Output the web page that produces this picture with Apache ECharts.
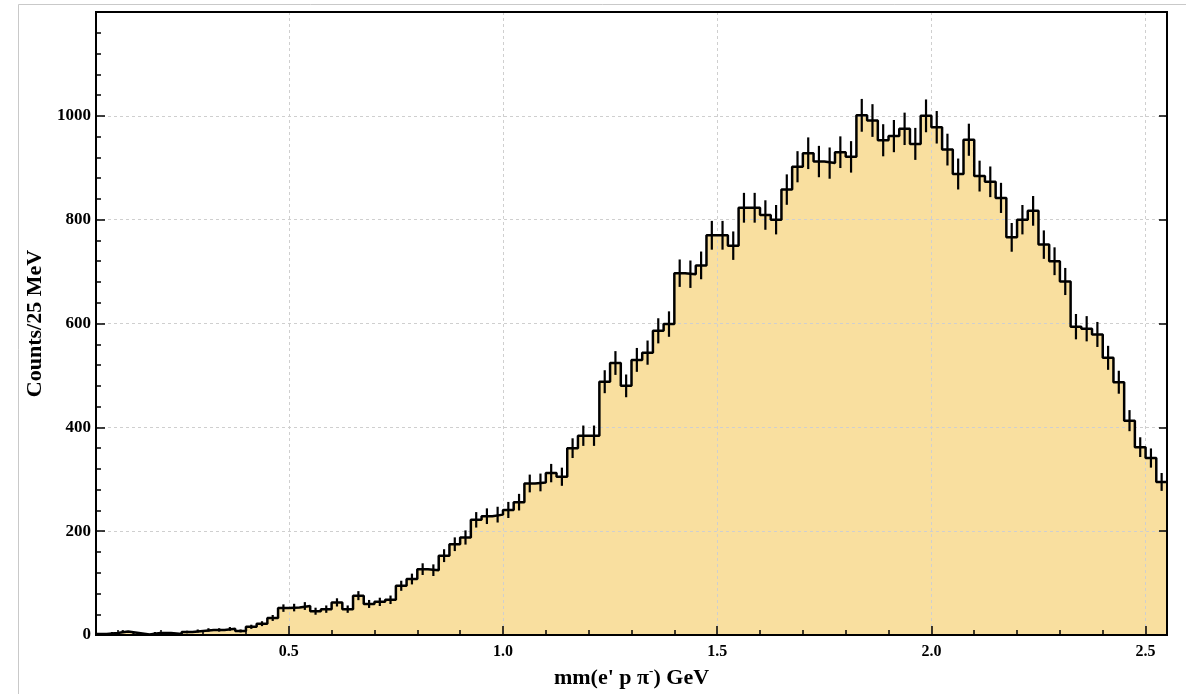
<!DOCTYPE html>
<html>
<head>
<meta charset="utf-8">
<script src="https://cdn.jsdelivr.net/npm/echarts@6/dist/echarts.min.js"></script>
<style>
html,body{margin:0;padding:0;background:#fff;}
#chart{width:1186px;height:694px;}
</style>
</head>
<body>
<div id="chart"></div>
<script>
// Histogram binning (GeV)
const binLow = 0.05;
const binWidth = 0.025;
const binHigh = 2.55;

// Counts per 25 MeV bin (100 bins)
const counts = [
  2, 4, 7, 4, 1, 4, 4, 2, 6, 8,
  10, 10, 12, 8, 16, 22, 33, 52, 53, 56,
  46, 50, 63, 50, 76, 60, 64, 68, 95, 108,
  127, 125, 153, 175, 188, 222, 229, 232, 241, 256,
  292, 294, 312, 305, 360, 384, 384, 488, 524, 480,
  530, 544, 586, 599, 697, 695, 712, 770, 770, 750,
  823, 823, 809, 800, 858, 902, 928, 912, 909, 930,
  921, 1001, 991, 953, 961, 975, 946, 1000, 978, 935,
  888, 954, 884, 873, 842, 766, 800, 817, 752, 720,
  681, 594, 590, 579, 534, 487, 413, 362, 341, 295
];

// Half-lengths of the error bars
const errors = [
  1.4, 2, 2.6, 2, 1, 2, 2, 1.4, 2.4, 2.8,
  3.2, 3.2, 3.5, 2.8, 4, 4.7, 5.7, 7.2, 7.3, 7.5,
  6.8, 7.1, 7.9, 7.1, 8.7, 7.7, 8, 8.2, 9.7, 10.4,
  11.3, 11.2, 12.4, 13.2, 13.7, 14.9, 15.1, 15.2, 15.5, 16,
  17.1, 17.1, 17.7, 17.5, 19, 19.6, 19.6, 22.1, 22.9, 21.9,
  23, 23.3, 24.2, 24.5, 26.4, 26.4, 26.7, 27.7, 27.7, 27.4,
  28.7, 28.7, 28.4, 28.3, 29.3, 30, 30.5, 30.2, 30.1, 30.5,
  30.3, 31.6, 31.5, 30.9, 31, 31.2, 30.8, 31.6, 31.3, 30.6,
  29.8, 30.9, 29.7, 29.5, 29, 27.7, 28.3, 28.6, 27.4, 26.8,
  26.1, 24.4, 24.3, 24.1, 23.1, 22.1, 20.3, 19, 18.5, 17.2
];

// Tick values
const xMajorTicks = [0.5, 1.0, 1.5, 2.0, 2.5];
const xMinorTicks = [0.1, 0.2, 0.3, 0.4, 0.6, 0.7, 0.8, 0.9, 1.1, 1.2, 1.3, 1.4,
                     1.6, 1.7, 1.8, 1.9, 2.1, 2.2, 2.3, 2.4];
const yMin = 0, yMax = 1200, yStep = 200;

const xTitle = "{a|mm(e' p π}{s|-}{a|) GeV}";
const yTitle = 'Counts/25 MeV';

const FONT = '"Liberation Serif", "Times New Roman", serif';
const FILL = '#f9df9f';

// Step-line data: one point per bin low edge, plus the last edge
const stepData = counts.map((c, i) => [binLow + i * binWidth, c]);
stepData.push([binHigh, counts[counts.length - 1]]);
const errData = counts.map((c, i) => [binLow + (i + 0.5) * binWidth, c, errors[i]]);

const chart = echarts.init(document.getElementById('chart'), null, {renderer: 'canvas'});

const option = {
  animation: false,
  backgroundColor: '#fff',
  grid: {
    left: 96, right: 19, top: 12, bottom: 56,
    show: true, borderColor: '#000', borderWidth: 2, backgroundColor: 'transparent', z: 10
  },
  graphic: [{
    type: 'rect', silent: true, z: 0,
    shape: {x: 18.5, y: 4.5, width: 1300, height: 800},
    style: {fill: 'none', stroke: '#c9c9c9', lineWidth: 1}
  }],
  xAxis: [{
    type: 'value', min: binLow, max: binHigh, z: 3,
    name: xTitle, nameLocation: 'middle', nameGap: 25,
    nameTextStyle: {
      rich: {
        a: {fontFamily: FONT, fontWeight: 'bold', fontSize: 22, color: '#000', lineHeight: 26},
        s: {fontFamily: FONT, fontWeight: 'bold', fontSize: 13, color: '#000', verticalAlign: 'top', lineHeight: 14}
      }
    },
    axisLine: {show: true, lineStyle: {color: '#000', width: 2}},
    axisTick: {show: true, inside: true, length: 9, customValues: xMajorTicks, lineStyle: {color: '#000', width: 1.5}},
    axisLabel: {
      customValues: xMajorTicks, margin: 9,
      formatter: v => v.toFixed(1),
      fontFamily: FONT, fontWeight: 'bold', fontSize: 16, color: '#000'
    },
    splitLine: {show: true, lineStyle: {color: '#cfcfcf', type: [3, 3], width: 1}}
  }, {
    type: 'value', min: binLow, max: binHigh, position: 'bottom', z: 3,
    axisLine: {show: false},
    axisTick: {show: true, inside: true, length: 5, customValues: xMinorTicks, lineStyle: {color: '#000', width: 1.5}},
    axisLabel: {show: false},
    splitLine: {show: false}
  }],
  yAxis: [{
    type: 'value', min: yMin, max: yMax, interval: yStep, z: 3,
    name: yTitle, nameLocation: 'middle', nameGap: 45,
    nameTextStyle: {fontFamily: FONT, fontWeight: 'bold', fontSize: 22, color: '#000'},
    axisLine: {show: true, lineStyle: {color: '#000', width: 2}},
    axisTick: {show: true, inside: true, length: 9, lineStyle: {color: '#000', width: 1.5}},
    minorTick: {show: true, splitNumber: 5, length: 5, lineStyle: {color: '#000', width: 1.5}},
    axisLabel: {
      margin: 5,
      formatter: v => (v === yMax ? '' : String(v)),
      fontFamily: FONT, fontWeight: 'bold', fontSize: 17, color: '#000'
    },
    splitLine: {show: true, lineStyle: {color: '#cfcfcf', type: [3, 3], width: 1}}
  }, {
    type: 'value', min: yMin, max: yMax, interval: yStep, position: 'right', z: 3,
    axisLine: {show: true, lineStyle: {color: '#000', width: 2}},
    axisTick: {show: true, inside: true, length: 8, lineStyle: {color: '#000', width: 1.5}},
    axisLabel: {show: false},
    splitLine: {show: false}
  }],
  series: [{
    type: 'line', name: 'fill', step: 'end', data: stepData, z: 1,
    symbol: 'none', silent: true,
    lineStyle: {width: 0, opacity: 0},
    areaStyle: {color: FILL, opacity: 1}
  }, {
    type: 'line', name: 'hist', step: 'end', data: stepData, z: 5,
    symbol: 'none', silent: true,
    lineStyle: {color: '#000', width: 2.5}
  }, {
    type: 'custom', name: 'errors', data: errData, z: 5, silent: true,
    renderItem: function (params, api) {
      const x = api.value(0), y = api.value(1), e = api.value(2);
      const p1 = api.coord([x, y - e]);
      const p2 = api.coord([x, y + e]);
      return {
        type: 'line',
        shape: {x1: p1[0], y1: p1[1], x2: p2[0], y2: p2[1]},
        style: {stroke: '#000', lineWidth: 2.2}
      };
    }
  }]
};

chart.setOption(option);
</script>
</body>
</html>
